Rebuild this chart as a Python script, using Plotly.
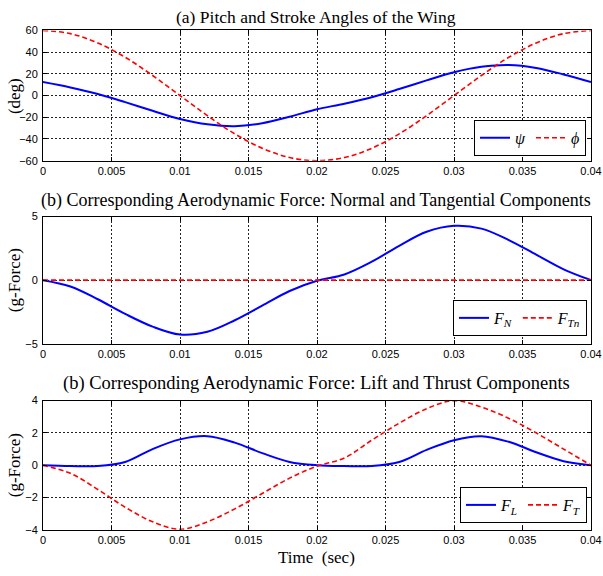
import plotly.graph_objects as go

# ---- data ----
t = [0.000, 0.002, 0.004, 0.006, 0.008, 0.010, 0.012, 0.014, 0.016, 0.018, 0.020,
     0.022, 0.024, 0.026, 0.028, 0.030, 0.032, 0.034, 0.036, 0.038, 0.040]
psi = [12.5, 7.5, 1.5, -6, -14, -21.5, -26.5, -28.2, -25.5, -19.5, -12.5,
       -7.5, -1.5, 6, 14, 21.5, 26.5, 28.2, 25.5, 19.5, 12.5]
phi = [60, 57.1, 48.5, 35.3, 18.5, 0, -18.5, -35.3, -48.5, -57.1, -60,
       -57.1, -48.5, -35.3, -18.5, 0, 18.5, 35.3, 48.5, 57.1, 60]
F_N = [0, -0.5, -1.5, -2.65, -3.65, -4.27, -4.05, -3.15, -2.0, -0.85, -0.05,
       0.45, 1.45, 2.7, 3.8, 4.27, 4.05, 3.15, 2.0, 0.85, 0]
F_Tn = [0] * 21
F_L = [0, -0.05, -0.05, 0.2, 1.0, 1.6, 1.8, 1.4, 0.75, 0.2, 0,
       -0.05, -0.05, 0.2, 0.95, 1.55, 1.8, 1.45, 0.8, 0.25, 0]
F_T = [0, -0.5, -1.5, -2.6, -3.5, -3.97, -3.5, -2.7, -1.75, -0.8, -0.06,
       0.45, 1.55, 2.6, 3.5, 4.0, 3.6, 2.9, 2.0, 1.0, 0]

x_ticks = [0, 0.005, 0.01, 0.015, 0.02, 0.025, 0.03, 0.035, 0.04]
x_tick_text = ["0", "0.005", "0.01", "0.015", "0.02", "0.025", "0.03", "0.035", "0.04"]
y1_ticks = [-60, -40, -20, 0, 20, 40, 60]
y2_ticks = [-5, 0, 5]
y3_ticks = [-4, -2, 0, 2, 4]

titles = ["(a) Pitch and Stroke Angles of the Wing",
          "(b) Corresponding Aerodynamic Force: Normal and Tangential Components",
          "(b) Corresponding Aerodynamic Force: Lift and Thrust Components"]

# ---- layout constants ----
W, H = 603, 576
L, R = 43, 591
BLUE = "#0000FF"
RED = "#FF0000"
SERIF = "Liberation Serif"
SANS = "Liberation Sans"

def px_x(px):
    return (px - L) / (R - L)

def px_y(py):
    return 1 - py / H

panels = [(25, 158), (215, 345), (403, 535)]

fig = go.Figure()

blue_line = dict(color=BLUE, width=2, shape="spline")
red_line = dict(color=RED, width=1.6, dash="5px,3px", shape="spline")

fig.add_trace(go.Scatter(x=t, y=psi, mode="lines", line=blue_line, name="<i>ψ</i>",
                         xaxis="x", yaxis="y", legend="legend"))
fig.add_trace(go.Scatter(x=t, y=phi, mode="lines", line=red_line, name="<i>ϕ</i>",
                         xaxis="x", yaxis="y", legend="legend"))
fig.add_trace(go.Scatter(x=t, y=F_N, mode="lines", line=blue_line,
                         name="<i>F</i><sub><i>N</i></sub>",
                         xaxis="x2", yaxis="y2", legend="legend2"))
fig.add_trace(go.Scatter(x=t, y=F_Tn, mode="lines", line=red_line,
                         name="<i>F</i><sub><i>Tn</i></sub>",
                         xaxis="x2", yaxis="y2", legend="legend2"))
fig.add_trace(go.Scatter(x=t, y=F_L, mode="lines", line=blue_line,
                         name="<i>F</i><sub><i>L</i></sub>",
                         xaxis="x3", yaxis="y3", legend="legend3"))
fig.add_trace(go.Scatter(x=t, y=F_T, mode="lines", line=red_line,
                         name="<i>F</i><sub><i>T</i></sub>",
                         xaxis="x3", yaxis="y3", legend="legend3"))

common_axis = dict(showline=True, linecolor="black", linewidth=1, mirror="ticks",
                   ticks="inside", ticklen=4, tickcolor="black",
                   showgrid=True, gridcolor="#222222", gridwidth=1, griddash="2px,2px",
                   zeroline=False, tickfont=dict(family=SANS, size=11, color="black"))

layout = dict(width=W, height=H, margin=dict(l=L, r=W - R, t=0, b=0),
              plot_bgcolor="white", paper_bgcolor="white", showlegend=True)

yticks_list = [y1_ticks, y2_ticks, y3_ticks]
yranges = [[-60, 60], [-5, 5], [-4, 4]]
for i, (top, bot) in enumerate(panels):
    sfx = "" if i == 0 else str(i + 1)
    layout["xaxis" + sfx] = dict(common_axis, domain=[0, 1], range=[0, 0.04],
                                 tickvals=x_ticks, ticktext=x_tick_text,
                                 anchor="y" + sfx)
    layout["yaxis" + sfx] = dict(common_axis, domain=[px_y(bot), px_y(top)],
                                 range=yranges[i], tickvals=yticks_list[i],
                                 ticklabelstandoff=2, anchor="x" + sfx)

legend_common = dict(orientation="h", xanchor="right", yanchor="bottom",
                     bgcolor="white", bordercolor="black", borderwidth=1,
                     font=dict(family=SERIF, size=16, color="black"),
                     itemwidth=30, tracegroupgap=0)
layout["legend"] = dict(legend_common, x=px_x(586), y=px_y(153))
layout["legend2"] = dict(legend_common, x=px_x(587), y=px_y(337))
layout["legend3"] = dict(legend_common, x=px_x(587), y=px_y(528))

annotations = []
title_y = [11, 199, 386]
title_size = [17.5, 18, 18.5]
for i, ty in enumerate(title_y):
    annotations.append(dict(text=titles[i], x=px_x(316), y=px_y(ty), xref="paper", yref="paper",
                            xanchor="center", yanchor="middle", showarrow=False,
                            font=dict(family=SERIF, size=title_size[i], color="black")))
ylabels = ["(deg)", "(g-Force)", "(g-Force)"]
ylabel_y = [92, 280, 469]
for lab, yy in zip(ylabels, ylabel_y):
    annotations.append(dict(text=lab, x=px_x(14), y=px_y(yy), xref="paper", yref="paper",
                            xanchor="center", yanchor="middle", showarrow=False, textangle=-90,
                            font=dict(family=SERIF, size=17, color="black")))
annotations.append(dict(text="Time  (sec)", x=px_x(316), y=px_y(563), xref="paper", yref="paper",
                        xanchor="center", yanchor="middle", showarrow=False,
                        font=dict(family=SERIF, size=17, color="black")))
layout["annotations"] = annotations

fig.update_layout(**layout)
fig.write_html("out.html")
